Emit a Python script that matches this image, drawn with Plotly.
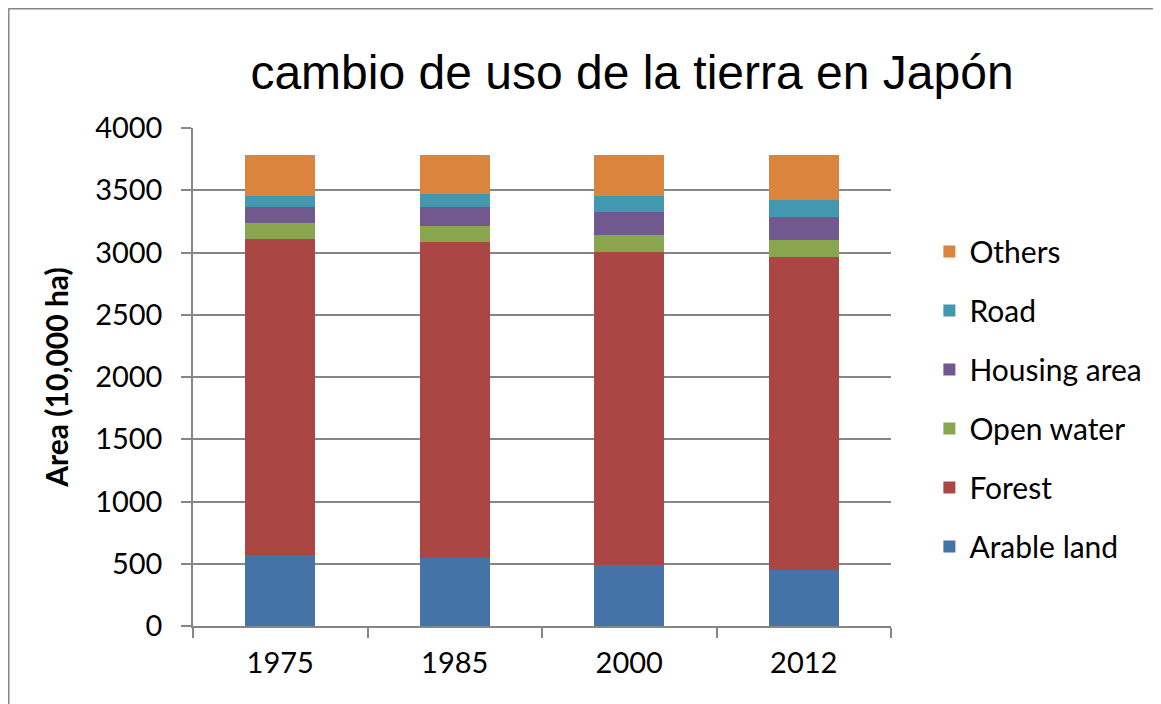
import plotly.graph_objects as go

years = ['1975', '1985', '2000', '2012']

# area in 10,000 ha
arable_land = [572, 545, 486, 452]
forest = [2536, 2537, 2520, 2512]
open_water = [129, 131, 137, 134]
housing_area = [126, 150, 180, 185]
road = [88, 109, 128, 139]
others = [332, 311, 332, 361]

series = [
    ('Arable land', arable_land, '#4572A7'),
    ('Forest', forest, '#AA4643'),
    ('Open water', open_water, '#89A54E'),
    ('Housing area', housing_area, '#71588F'),
    ('Road', road, '#4198AF'),
    ('Others', others, '#DB843D'),
]

fig = go.Figure()
for i, (name, vals, color) in enumerate(series):
    # top of the stack first in the legend
    fig.add_trace(go.Bar(x=years, y=vals, name=name, legendgroup=name,
                         legendrank=100 - i,
                         marker=dict(color=color, line=dict(width=0))))

font_main = 'Lato'
grid = '#868686'

# page body adds an 8px offset, so the figure is a bit smaller than the window
W, H = 1153, 696
L, T, PW, PH = 185, 120, 698, 498

fig.update_layout(
    width=W, height=H,
    barmode='stack', bargap=0.6,
    margin=dict(l=L, r=W - L - PW, t=T, b=H - T - PH),
    paper_bgcolor='white', plot_bgcolor='white',
    font=dict(family=font_main, size=29, color='black'),
    title=dict(text='cambio de uso de la tierra en Japón',
               font=dict(family='Liberation Sans', size=48, color='black'),
               x=(624 - L) / PW, xref='paper', xanchor='center',
               y=1 - 64 / H, yref='container', yanchor='middle'),
    legend=dict(x=1.055, xanchor='left', y=0.804, yanchor='top',
                traceorder='grouped', tracegroupgap=17,
                font=dict(family=font_main, size=30)),
    showlegend=True,
)

fig.update_yaxes(range=[0, 4000], dtick=500, showgrid=True, gridcolor=grid,
                 gridwidth=1.5, showline=True, linecolor=grid, linewidth=1.5,
                 ticks='outside', ticklen=10, tickcolor=grid, tickwidth=1.5,
                 ticklabelstandoff=13, zeroline=False,
                 title=dict(text='<b>Area (10,000 ha)</b>', standoff=18,
                            font=dict(family=font_main, size=30)))
fig.update_xaxes(showline=True, linecolor=grid, linewidth=1.5,
                 ticks='outside', ticklen=10, tickcolor=grid, tickwidth=1.5,
                 tickson='boundaries', ticklabelstandoff=10)

# outer chart border (only top and left edges are visible)
bx = (0.5 - L) / PW
by = (T + PH - 0.5) / PH
fig.add_shape(type='line', xref='paper', yref='paper',
              x0=bx, x1=(W - L) / PW, y0=by, y1=by,
              line=dict(color=grid, width=2))
fig.add_shape(type='line', xref='paper', yref='paper',
              x0=bx, x1=bx, y0=by, y1=-(H - T - PH) / PH,
              line=dict(color=grid, width=2))

fig.write_html("out.html")
